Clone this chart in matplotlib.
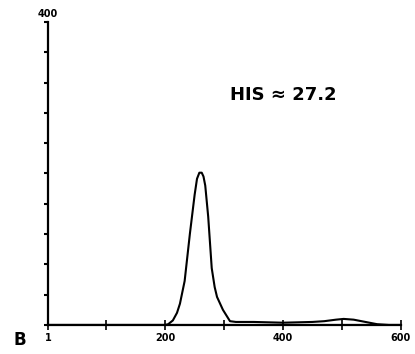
import matplotlib
matplotlib.use("Agg")
import matplotlib.pyplot as plt

# values
x_vals = [1, 50, 100, 150, 200, 205, 213, 220, 225, 233, 242, 250, 254, 258,
          262, 265, 268, 273, 279, 284, 288, 298, 310, 320, 350, 400, 450,
          470, 490, 503, 520, 540, 560, 580, 600]
y_vals = [0, 0, 0, 0, 0, 1, 6, 16, 28, 58, 121, 172, 193, 201,
          201, 196, 184, 143, 75, 50, 37, 20, 5, 4, 4, 3, 4,
          5, 7, 8, 7, 4, 1, 0, 0]

x_ticks = [1, 100, 200, 300, 400, 500, 600]
x_labels = ["1", "", "200", "", "400", "", "600"]
y_ticks = [0, 40, 80, 120, 160, 200, 240, 280, 320, 360, 400]

fig = plt.figure(figsize=(4.15, 3.54), dpi=100)
ax = fig.add_axes([0.1157, 0.082, 0.85, 0.856])

ax.plot(x_vals, y_vals, color="black", lw=1.5)
ax.axhline(0, color="black", lw=1.5)

ax.set_xlim(1, 600)
ax.set_ylim(0, 400)
ax.spines["top"].set_visible(False)
ax.spines["right"].set_visible(False)
ax.spines["left"].set_linewidth(1.6)
ax.spines["bottom"].set_linewidth(1.6)

ax.set_xticks(x_ticks)
ax.set_xticklabels(x_labels, fontsize=7, fontweight="bold")
ax.tick_params(axis="x", direction="inout", length=7, width=1.2, pad=2)
ax.set_yticks(y_ticks)
ax.set_yticklabels([])
ax.tick_params(axis="y", direction="out", length=3, width=1.5)

# top label of y axis
ax.text(1, 404, "400", fontsize=7, fontweight="bold", ha="center", va="bottom")

ax.text(0.515, 0.76, "HIS \u2248 27.2", transform=ax.transAxes,
        fontsize=13, fontweight="bold", ha="left", va="center")
fig.text(0.048, 0.04, "B", fontsize=12, fontweight="bold", ha="center", va="center")

fig.savefig("out.png", dpi=100)
